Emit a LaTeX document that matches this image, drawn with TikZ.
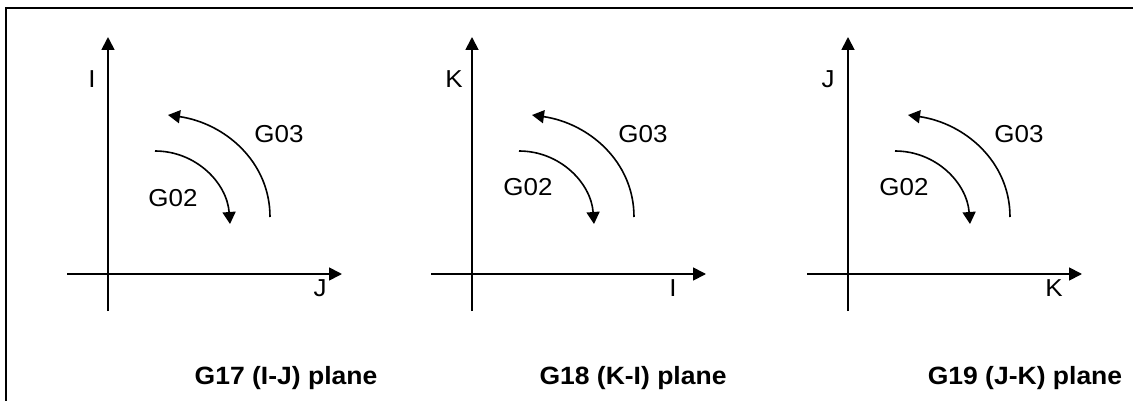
\documentclass[tikz,border=0pt]{standalone}
\usepackage{fontspec}
\setmainfont{Liberation Sans}[FakeStretch=1.06]
\usetikzlibrary{arrows.meta}
\tikzset{
  axisline/.style={line width=1.8pt, -{Triangle[length=13pt,width=13pt]}},
  arcline/.style={line width=1.6pt, -{Triangle[length=12pt,width=13pt]}},
  lbl/.style={font=\fontsize{24.5}{29}\selectfont, inner sep=0pt, anchor=base},
  ttl/.style={font=\fontsize{25}{30}\selectfont\bfseries, inner sep=0pt, anchor=base},
  frameline/.style={line width=2.4pt, line join=miter}
}
% #1 shift, #2 prefix, #3 vertical label, #4 its x, #5 horizontal label, #6 its x, #7 G02 x, #8 G02 baseline
\newcommand{\planepanel}[8]{%
\begin{scope}[xshift=#1pt]
  \coordinate (#2-vb) at (108,311);
  \coordinate (#2-vt) at (108,37);
  \coordinate (#2-hl) at (67,274);
  \coordinate (#2-hr) at (342,274);
  \draw[axisline] (#2-vb) -- (#2-vt);
  \draw[axisline] (#2-hl) -- (#2-hr);
  \node[lbl] (#2-vlab) at (#4,88) {#3};
  \node[lbl] (#2-hlab) at (#6,296) {#5};
  \coordinate (#2-g3s) at (270,217);
  \coordinate (#2-g3e) at (168,115);
  \draw[arcline] (#2-g3s) .. controls (270,161) and (224,123) .. (#2-g3e);
  \coordinate (#2-g2s) at (155,151);
  \coordinate (#2-g2e) at (230,224);
  \draw[arcline] (#2-g2s) .. controls (196,151) and (227,183) .. (#2-g2e);
  \node[lbl] (#2-g3lab) at (279,143) {G03};
  \node[lbl] (#2-g2lab) at (#7,#8) {G02};
\end{scope}}
\begin{document}
\begin{tikzpicture}[x=1pt,y=-1pt]
\useasboundingbox (0,0) rectangle (1133,401);
\coordinate (fbl) at (6,401);
\coordinate (ftl) at (6,8);
\coordinate (ftr) at (1133,8);
\draw[frameline] (fbl) -- (ftl) -- (ftr);
\planepanel{0}{pa}{I}{92}{J}{320}{173}{206}
\planepanel{364}{pb}{K}{90}{I}{309}{164}{196}
\planepanel{740}{pc}{J}{88}{K}{314}{164}{196}
\node[ttl] (t1) at (286,384) {G17 (I-J) plane};
\node[ttl] (t2) at (633,384) {G18 (K-I) plane};
\node[ttl] (t3) at (1025,384) {G19 (J-K) plane};
\end{tikzpicture}
\end{document}
